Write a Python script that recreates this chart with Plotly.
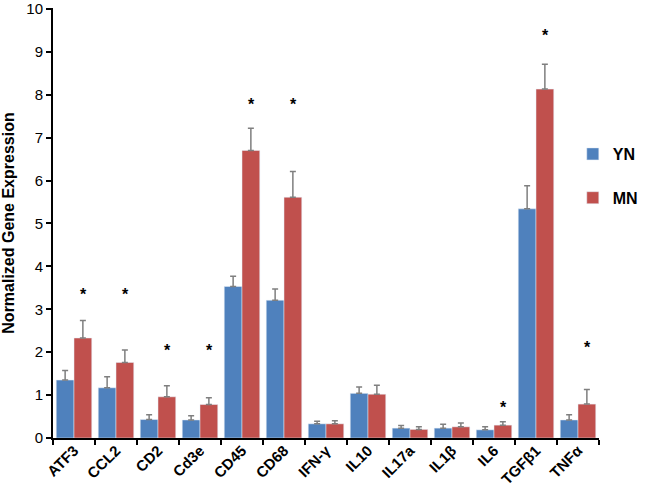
import plotly.graph_objects as go

genes = ['ATF3', 'CCL2', 'CD2', 'Cd3e', 'CD45', 'CD68', 'IFN-γ', 'IL10',
         'IL17a', 'IL1β', 'IL6', 'TGFβ1', 'TNFα']
yn = [1.35, 1.17, 0.43, 0.42, 3.53, 3.21, 0.33, 1.04, 0.23, 0.23, 0.19, 5.34, 0.42]
yn_err = [0.22, 0.26, 0.11, 0.10, 0.24, 0.26, 0.06, 0.15, 0.06, 0.09, 0.07, 0.54, 0.12]
mn = [2.33, 1.76, 0.96, 0.78, 6.70, 5.61, 0.33, 1.02, 0.20, 0.26, 0.30, 8.13, 0.79]
mn_err = [0.41, 0.29, 0.26, 0.16, 0.52, 0.60, 0.07, 0.21, 0.06, 0.09, 0.08, 0.58, 0.34]
# significance markers (gene, height)
sig_genes = ['ATF3', 'CCL2', 'CD2', 'Cd3e', 'CD45', 'CD68', 'IL6', 'TGFβ1', 'TNFα']
sig_y = [3.34, 3.34, 2.05, 2.05, 7.76, 7.76, 0.71, 9.37, 2.1]

font = 'Liberation Sans, Arial, sans-serif'
W, H = 651, 492
ml, mr, mt, mb = 53, 28, 8, 54
bargap = 0.155

fig = go.Figure()
fig.add_trace(go.Bar(
    x=genes, y=yn, name='<b>YN</b>', marker_color='#4F81BD', legendgroup='a',
    error_y=dict(type='data', array=yn_err, arrayminus=[0] * len(yn),
                 symmetric=False, color='#7F7F7F', thickness=1.5, width=3)
))
fig.add_trace(go.Bar(
    x=genes, y=mn, name='<b>MN</b>', marker_color='#C0504D', legendgroup='b',
    error_y=dict(type='data', array=mn_err, arrayminus=[0] * len(mn),
                 symmetric=False, color='#7F7F7F', thickness=1.5, width=3)
))
# invisible trace so the overlay axis can put its ticks between categories
fig.add_trace(go.Scatter(
    x=genes, y=yn, xaxis='x2', mode='markers', marker=dict(opacity=0),
    showlegend=False, hoverinfo='skip'
))

# offset of the MN bar centre from the category centre, in pixels
cat_px = (W - ml - mr) / len(genes)
shift = (1 - bargap) / 4 * cat_px
for g, y in zip(sig_genes, sig_y):
    fig.add_annotation(x=g, y=y, text='<b>*</b>', showarrow=False,
                       xshift=shift, font=dict(size=16, color='black', family=font))

xrange = [-0.5, len(genes) - 0.5]
fig.update_layout(
    width=W, height=H,
    margin=dict(l=ml, r=mr, t=mt, b=mb),
    barmode='group', bargap=bargap, bargroupgap=0,
    plot_bgcolor='white', paper_bgcolor='white',
    font=dict(family=font, color='black'),
    legend=dict(x=0.952, y=0.70, xanchor='left', yanchor='top',
                font=dict(size=16, color='black'), bgcolor='rgba(0,0,0,0)',
                tracegroupgap=20, itemwidth=30),
    showlegend=True,
    xaxis=dict(
        automargin=False, range=xrange,
        showline=False, ticks='', tickangle=-45,
        tickfont=dict(size=15, family=font, color='black'),
        tickprefix='<b>', ticksuffix='</b>'
    ),
    xaxis2=dict(
        overlaying='x', side='bottom', anchor='y', range=xrange,
        automargin=False, showticklabels=False,
        showline=True, linecolor='black', linewidth=2,
        ticks='outside', tickson='boundaries', ticklen=5, tickwidth=2, tickcolor='black',
        showgrid=False
    ),
    yaxis=dict(
        automargin=False,
        range=[0, 10.02], tickvals=list(range(11)), showgrid=False, zeroline=False,
        showline=True, linecolor='black', linewidth=2,
        ticks='outside', ticklen=5, tickwidth=2, tickcolor='black',
        tickfont=dict(size=15, family=font, color='black'),
        tickprefix='<b>', ticksuffix='</b>',
        title=dict(text='<b>Normalized Gene Expression</b>',
                   font=dict(size=16, family=font), standoff=14)
    ),
)

fig.write_html('out.html', config={'displayModeBar': False},
               post_script="document.body.style.margin='0';")
